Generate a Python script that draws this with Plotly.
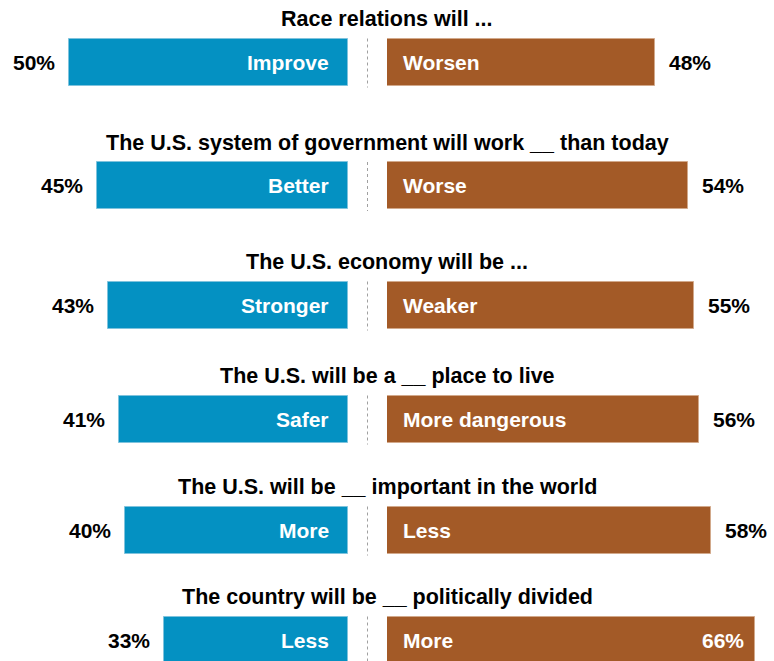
import plotly.graph_objects as go

# Survey questions and answer shares (%)
questions = [
    "Race relations will ...",
    "The U.S. system of government will work __ than today",
    "The U.S. economy will be ...",
    "The U.S. will be a __ place to live",
    "The U.S. will be __ important in the world",
    "The country will be __ politically divided",
]
left_labels = ["Improve", "Better", "Stronger", "Safer", "More", "Less"]
left_values = [50, 45, 43, 41, 40, 33]
right_labels = ["Worsen", "Worse", "Weaker", "More dangerous", "Less", "More"]
right_values = [48, 54, 55, 56, 58, 66]

# Layout constants (page pixels)
W, H = 774, 661
PX_PER_PCT = 5.58
LEFT_END = 348      # where the left bars start (their base)
RIGHT_START = 387   # where the right bars start
ROW_Y = [62, 185.5, 305, 419, 530, 640]
BAR_H = 47
BLUE = "#0491C2"
BROWN = "#A35A27"
FONT = "Liberation Sans, Arial, sans-serif"

fig = go.Figure()

fig.add_trace(go.Bar(
    y=ROW_Y, x=left_values, orientation="h", width=BAR_H,
    xaxis="x", yaxis="y",
    marker=dict(color=BLUE, line=dict(color="#7FC3DD", width=1)),
    hoverinfo="skip", showlegend=False,
))
fig.add_trace(go.Bar(
    y=ROW_Y, x=right_values, orientation="h", width=BAR_H,
    xaxis="x2", yaxis="y",
    marker=dict(color=BROWN, line=dict(color="#D2A98B", width=1)),
    hoverinfo="skip", showlegend=False,
))

annotations = []
shapes = []
label_font = dict(family=FONT, size=21, color="white")
value_font = dict(family=FONT, size=21, color="black")
title_font = dict(family=FONT, size=21.5, color="black")
right_max = (W - RIGHT_START) / PX_PER_PCT

for i, yc in enumerate(ROW_Y):
    # question heading
    annotations.append(dict(
        text=f"<b>{questions[i]}</b>", xref="paper", yref="y", x=0.5, y=yc - 43,
        xanchor="center", yanchor="middle", showarrow=False, font=title_font,
    ))
    # answer labels inside the bars
    annotations.append(dict(
        text=f"<b>{left_labels[i]}</b>", xref="x", yref="y", x=0, y=yc,
        xanchor="right", yanchor="middle", xshift=-17, showarrow=False, font=label_font,
    ))
    annotations.append(dict(
        text=f"<b>{right_labels[i]}</b>", xref="x2", yref="y", x=0, y=yc,
        xanchor="left", yanchor="middle", xshift=14, showarrow=False, font=label_font,
    ))
    # percentages
    annotations.append(dict(
        text=f"<b>{left_values[i]}%</b>", xref="x", yref="y", x=left_values[i], y=yc,
        xanchor="right", yanchor="middle", xshift=-12, showarrow=False, font=value_font,
    ))
    if right_values[i] + 10 > right_max:
        annotations.append(dict(
            text=f"<b>{right_values[i]}%</b>", xref="x2", yref="y", x=right_values[i], y=yc,
            xanchor="right", yanchor="middle", xshift=-9, showarrow=False,
            font=dict(family=FONT, size=21, color="white"),
        ))
    else:
        annotations.append(dict(
            text=f"<b>{right_values[i]}%</b>", xref="x2", yref="y", x=right_values[i], y=yc,
            xanchor="left", yanchor="middle", xshift=12, showarrow=False, font=value_font,
        ))
    # dotted divider between the two sides
    mid = (LEFT_END + RIGHT_START) / 2 / W
    shapes.append(dict(
        type="line", xref="paper", yref="y", x0=mid, x1=mid,
        y0=yc - BAR_H / 2, y1=yc + BAR_H / 2 + 2,
        line=dict(color="#A0A0A0", width=1, dash="dot"),
    ))

fig.update_layout(
    width=W, height=H,
    margin=dict(l=0, r=0, t=0, b=0),
    paper_bgcolor="white", plot_bgcolor="white",
    xaxis=dict(domain=[0, LEFT_END / W], range=[LEFT_END / PX_PER_PCT, 0],
               visible=False, fixedrange=True),
    xaxis2=dict(domain=[RIGHT_START / W, 1], range=[0, right_max],
                visible=False, fixedrange=True),
    yaxis=dict(domain=[0, 1], range=[H, 0], visible=False, fixedrange=True),
    annotations=annotations,
    shapes=shapes,
    bargap=0,
)

fig.write_html("out.html")
